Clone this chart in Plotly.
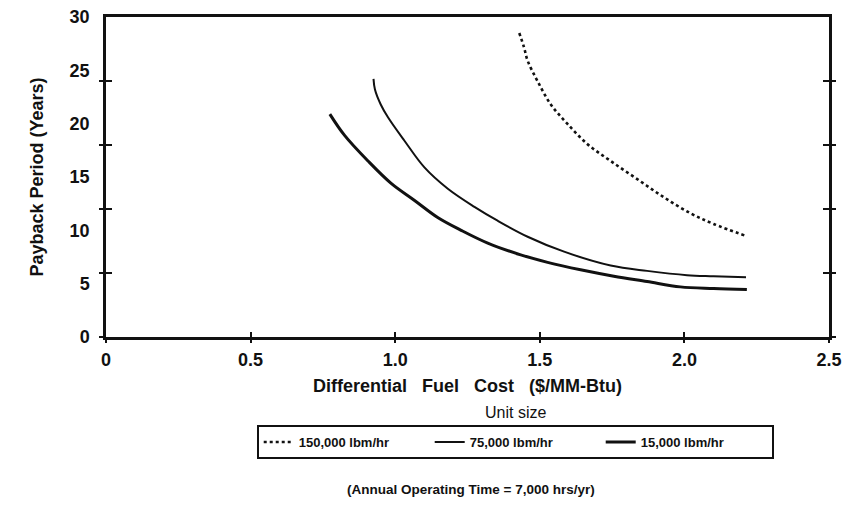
import plotly.graph_objects as go

# ---- data ----
x_150k = [1.429, 1.445, 1.458, 1.492, 1.538, 1.595, 1.664, 1.745, 1.837, 1.929, 2.021, 2.101, 2.210]
y_150k = [28.5, 27.2, 25.9, 24.0, 21.8, 20.0, 18.1, 16.5, 14.8, 13.1, 11.6, 10.6, 9.5]

x_75k = [0.925, 0.930, 0.950, 0.975, 1.032, 1.101, 1.182, 1.274, 1.354, 1.458, 1.584, 1.745, 1.871, 2.009, 2.101, 2.213]
y_75k = [24.2, 23.2, 21.8, 20.6, 18.4, 15.9, 13.9, 12.2, 10.9, 9.4, 8.0, 6.7, 6.2, 5.8, 5.7, 5.6]

x_15k = [0.774, 0.825, 0.906, 0.986, 1.067, 1.147, 1.228, 1.320, 1.434, 1.527, 1.641, 1.756, 1.871, 1.986, 2.101, 2.216]
y_15k = [20.9, 18.9, 16.5, 14.4, 12.8, 11.2, 10.0, 8.8, 7.7, 7.0, 6.3, 5.7, 5.2, 4.7, 4.55, 4.45]

x_tickvals = [0, 0.5, 1.0, 1.5, 2.0, 2.5]
x_ticktext = ["0", "0.5", "1.0", "1.5", "2.0", "2.5"]
y_tickvals = [0, 5, 10, 15, 20, 25, 30]
y_marks = [0, 6, 12, 18, 24]          # tick marks drawn on the frame
x_marks = [0, 0.5, 1.0, 1.5, 2.0, 2.5]

series_names = ["150,000 lbm/hr", "75,000 lbm/hr", "15,000 lbm/hr"]

FONT = "Liberation Sans, Arial, sans-serif"
BLACK = "#111111"
X_RANGE = [0, 2.5]
Y_RANGE = [0, 30]

fig = go.Figure()
# each series sits on its own (identical) axis pair so the overlay axes that
# draw the crossing tick marks are rendered
fig.add_trace(go.Scatter(x=x_150k, y=y_150k, mode="lines", name=series_names[0],
                         xaxis="x", yaxis="y",
                         line=dict(color=BLACK, width=2.6, dash="dot", shape="spline")))
fig.add_trace(go.Scatter(x=x_75k, y=y_75k, mode="lines", name=series_names[1],
                         xaxis="x2", yaxis="y2",
                         line=dict(color=BLACK, width=2.0, shape="spline")))
fig.add_trace(go.Scatter(x=x_15k, y=y_15k, mode="lines", name=series_names[2],
                         xaxis="x3", yaxis="y3",
                         line=dict(color=BLACK, width=3.0, shape="spline")))

tick_axis = dict(showticklabels=False, showgrid=False, zeroline=False,
                 showline=False, tickcolor=BLACK, tickwidth=1.6, automargin=False)

fig.update_layout(
    width=846, height=525,
    paper_bgcolor="white", plot_bgcolor="white",
    margin=dict(l=106, r=17, t=17, b=188, autoexpand=False),
    font=dict(family=FONT, color=BLACK),
    xaxis=dict(range=X_RANGE, tickvals=x_tickvals, ticktext=x_ticktext,
               showgrid=False, zeroline=False, showline=True, linecolor=BLACK,
               linewidth=2.5, mirror=True, ticks="", ticklabelstandoff=5,
               automargin=False,
               tickfont=dict(size=18, family=FONT, weight="bold"),
               title=dict(text="Differential\u00a0\u00a0 Fuel\u00a0\u00a0 Cost\u00a0\u00a0 ($/MM-Btu)", standoff=11,
                          font=dict(size=18, weight="bold"))),
    yaxis=dict(range=Y_RANGE, tickvals=y_tickvals,
               showgrid=False, zeroline=False, showline=True, linecolor=BLACK,
               linewidth=2.5, mirror=True, ticks="", ticklabelstandoff=10,
               automargin=False,
               tickfont=dict(size=18, family=FONT, weight="bold"),
               title=dict(text="Payback Period (Years)", standoff=22,
                          font=dict(size=18, weight="bold"))),
    yaxis2=dict(overlaying="y", anchor="x", side="left", range=Y_RANGE,
                tickvals=y_marks, ticks="outside", ticklen=6, mirror="ticks", **tick_axis),
    yaxis3=dict(overlaying="y", anchor="x", side="left", range=Y_RANGE,
                tickvals=y_marks, ticks="inside", ticklen=6, mirror="ticks", **tick_axis),
    xaxis2=dict(overlaying="x", anchor="y", side="bottom", range=X_RANGE,
                tickvals=x_marks, ticks="outside", ticklen=5, **tick_axis),
    xaxis3=dict(overlaying="x", anchor="y", side="bottom", range=X_RANGE,
                tickvals=x_marks, ticks="inside", ticklen=5, **tick_axis),
    showlegend=True,
    legend=dict(orientation="h", x=0.566, xanchor="center", y=-0.275, yanchor="top",
                bordercolor=BLACK, borderwidth=2, bgcolor="white",
                font=dict(size=13, family=FONT, weight="bold"),
                entrywidth=126, entrywidthmode="pixels",
                itemwidth=30, tracegroupgap=0),
    annotations=[
        dict(text="Unit size", xref="paper", yref="paper", x=0.566, y=-0.235,
             xanchor="center", yanchor="middle", showarrow=False,
             font=dict(size=16, family=FONT)),
        dict(text="(Annual Operating Time = 7,000 hrs/yr)", xref="paper", yref="paper",
             x=0.505, y=-0.475, xanchor="center", yanchor="middle", showarrow=False,
             font=dict(size=13.5, family=FONT, weight="bold")),
    ],
)

# remove the browser's default page margin so the figure sits at (0, 0)
fig.write_html("out.html", config={"displayModeBar": False},
               post_script="document.body.style.margin='0';")
